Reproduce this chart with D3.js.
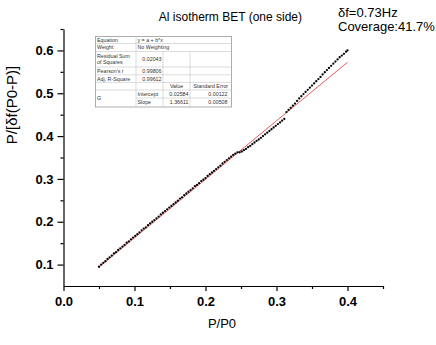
<!DOCTYPE html>
<html>
<head>
<meta charset="utf-8">
<script src="https://cdn.jsdelivr.net/npm/d3@7"></script>
<style>
  body { margin: 0; background: #fff; }
  svg { display: block; font-family: Arial, "Liberation Sans", sans-serif; }
</style>
</head>
<body>
<div id="chart"></div>
<script>
// measured points: P/P0 and P/[df(P0-P)]
const pp0 = [
  0.050, 0.053, 0.056, 0.059, 0.062, 0.065, 0.068, 0.071, 0.074, 0.077,
  0.080, 0.083, 0.086, 0.089, 0.092, 0.095, 0.098, 0.101, 0.104, 0.107,
  0.110, 0.113, 0.116, 0.119, 0.122, 0.125, 0.128, 0.131, 0.134, 0.137,
  0.140, 0.143, 0.146, 0.149, 0.152, 0.155, 0.158, 0.161, 0.164, 0.167,
  0.170, 0.173, 0.176, 0.179, 0.182, 0.185, 0.188, 0.191, 0.194, 0.197,
  0.200, 0.203, 0.206, 0.209, 0.212, 0.215, 0.218, 0.221, 0.224, 0.227,
  0.230, 0.233, 0.236, 0.239, 0.242, 0.245, 0.248, 0.251, 0.254, 0.257,
  0.260, 0.263, 0.266, 0.269, 0.272, 0.275, 0.278, 0.281, 0.284, 0.287,
  0.290, 0.293, 0.296, 0.299, 0.302, 0.305, 0.308, 0.311, 0.314, 0.317,
  0.320, 0.323, 0.326, 0.329, 0.332, 0.335, 0.338, 0.341, 0.344, 0.347,
  0.350, 0.353, 0.356, 0.359, 0.362, 0.365, 0.368, 0.371, 0.374, 0.377,
  0.380, 0.383, 0.386, 0.389, 0.392, 0.395, 0.398, 0.400
];
const bet = [
  0.095, 0.100, 0.104, 0.108, 0.113, 0.117, 0.121, 0.126, 0.129, 0.134,
  0.138, 0.142, 0.146, 0.151, 0.154, 0.159, 0.163, 0.167, 0.171, 0.175,
  0.180, 0.184, 0.187, 0.192, 0.196, 0.200, 0.204, 0.208, 0.212, 0.217,
  0.221, 0.225, 0.229, 0.233, 0.237, 0.241, 0.245, 0.249, 0.254, 0.257,
  0.262, 0.266, 0.270, 0.274, 0.278, 0.283, 0.286, 0.290, 0.295, 0.298,
  0.302, 0.307, 0.311, 0.315, 0.319, 0.323, 0.327, 0.331, 0.336, 0.340,
  0.344, 0.348, 0.352, 0.356, 0.359, 0.362, 0.362, 0.364, 0.367, 0.370,
  0.374, 0.377, 0.381, 0.385, 0.389, 0.392, 0.396, 0.400, 0.404, 0.408,
  0.412, 0.416, 0.420, 0.424, 0.428, 0.432, 0.436, 0.440, 0.456, 0.461,
  0.466, 0.471, 0.476, 0.482, 0.488, 0.493, 0.498, 0.503, 0.508, 0.513,
  0.518, 0.523, 0.528, 0.533, 0.538, 0.544, 0.549, 0.554, 0.559, 0.564,
  0.569, 0.574, 0.579, 0.584, 0.588, 0.592, 0.597, 0.600
];

// linear fit end points
const fitX = [0.05, 0.40];
const fitY = [0.0942, 0.5723];

const xTicks = [0, 0.1, 0.2, 0.3, 0.4];
const xMinor = [0.05, 0.15, 0.25, 0.35, 0.45];
const yTicks = [0.1, 0.2, 0.3, 0.4, 0.5, 0.6];
const yMinor = [0.15, 0.25, 0.35, 0.45, 0.55, 0.65];

// fit report table
const statNames  = ["Equation", "Weight", "Residual Sum|of Squares", "Pearson's r", "Adj. R-Square"];
const statValues = ["y = a + b*x", "No Weighting", "0.02043", "0.99806", "0.99612"];
const paramHeader = ["Value", "Standard Error"];
const paramNames  = ["Intercept", "Slope"];
const paramValues = ["0.02584", "1.36611"];
const paramErrors = ["0.00122", "0.00508"];
const seriesName = "G";

const title = "Al isotherm BET (one side)";
const notes = ["\u03b4f=0.73Hz", "Coverage:41.7%"];

const W = 436, H = 345;
const svg = d3.select("#chart").append("svg")
  .attr("width", W).attr("height", H);

const x = d3.scaleLinear().domain([0, 0.45]).range([63.5, 383]);
const y = d3.scaleLinear().domain([0.05, 0.65]).range([286, 29]);

// Axes
svg.append("g")
  .attr("transform", `translate(0,${y(0.05)})`)
  .call(d3.axisBottom(x).tickValues(xTicks).tickFormat(d3.format(".1f"))
    .tickSize(5).tickSizeOuter(0).tickPadding(6));
svg.append("g")
  .attr("transform", `translate(0,${y(0.05)})`)
  .call(d3.axisBottom(x).tickValues(xMinor).tickFormat("").tickSize(3).tickSizeOuter(0))
  .select(".domain").remove();

svg.append("g")
  .attr("transform", `translate(${x(0)},0)`)
  .call(d3.axisLeft(y).tickValues(yTicks).tickFormat(d3.format(".1f"))
    .tickSize(6).tickSizeOuter(0).tickPadding(4));
svg.append("g")
  .attr("transform", `translate(${x(0)},0)`)
  .call(d3.axisLeft(y).tickValues(yMinor).tickFormat("").tickSize(3).tickSizeOuter(0))
  .select(".domain").remove();

svg.selectAll(".domain, .tick line")
  .style("stroke", "#000")
  .style("stroke-width", "1.2px");
svg.selectAll(".tick text")
  .attr("fill", "#000")
  .style("font-family", "Arial, 'Liberation Sans', sans-serif")
  .style("font-size", "13px")
  .style("font-weight", "bold");

// Axis titles
svg.append("text")
  .attr("x", 222).attr("y", 328)
  .attr("text-anchor", "middle")
  .style("font-size", "13px")
  .text("P/P0");

svg.append("text")
  .attr("transform", "translate(17,105) rotate(-90)")
  .attr("text-anchor", "middle")
  .style("font-size", "15px")
  .text("P/[\u03b4f(P0-P)]");

// Title and notes
svg.append("text")
  .attr("x", 302).attr("y", 21)
  .attr("text-anchor", "end")
  .style("font-size", "12px")
  .text(title);

svg.selectAll("text.note")
  .data(notes)
  .enter().append("text")
  .attr("class", "note")
  .attr("x", 338)
  .attr("y", (d, i) => 17 + i * 14)
  .style("font-size", "13px")
  .text(d => d);

// Fit line
svg.append("line")
  .attr("x1", x(fitX[0])).attr("y1", y(fitY[0]))
  .attr("x2", x(fitX[1])).attr("y2", y(fitY[1]))
  .attr("stroke", "#e0474c")
  .attr("stroke-width", 0.9);

// Points
const points = pp0.map((p, i) => ({ p, v: bet[i] }));
svg.selectAll("circle.pt")
  .data(points)
  .enter().append("circle")
  .attr("class", "pt")
  .attr("cx", d => x(d.p))
  .attr("cy", d => y(d.v))
  .attr("r", 1.15)
  .attr("fill", "#000");

// Fit report table
const cols = [95.5, 136, 163, 190, 231.5];
const rows = [36.5, 43.5, 51.5, 67, 74.8, 82.4, 90, 98, 107];
const tbl = svg.append("g").style("font-size", "5.3px").attr("fill", "#333");
const grid = "#c4c4c4";

tbl.append("rect")
  .attr("x", cols[0]).attr("y", rows[0])
  .attr("width", cols[4] - cols[0]).attr("height", rows[8] - rows[0])
  .attr("fill", "#fff").attr("stroke", "#9a9a9a").attr("stroke-width", 0.8);

rows.slice(1, 8).forEach((ry, i) => {
  tbl.append("line")
    .attr("x1", i === 6 ? cols[1] : cols[0]).attr("x2", cols[4])
    .attr("y1", ry).attr("y2", ry)
    .attr("stroke", grid).attr("stroke-width", 0.6);
});
tbl.append("line")
  .attr("x1", cols[1]).attr("x2", cols[1]).attr("y1", rows[0]).attr("y2", rows[8])
  .attr("stroke", grid).attr("stroke-width", 0.6);
[cols[2], cols[3]].forEach(cx => {
  tbl.append("line")
    .attr("x1", cx).attr("x2", cx).attr("y1", rows[2]).attr("y2", rows[8])
    .attr("stroke", grid).attr("stroke-width", 0.6);
});

const mid = i => (rows[i] + rows[i + 1]) / 2 + 1.9;

statNames.forEach((s, i) => {
  const parts = s.split("|");
  parts.forEach((t, k) => {
    tbl.append("text")
      .attr("x", cols[0] + 1.5)
      .attr("y", mid(i) + (k - (parts.length - 1) / 2) * 6)
      .text(t);
  });
  const right = i >= 2;
  tbl.append("text")
    .attr("x", right ? cols[2] - 1.5 : cols[1] + 1.5)
    .attr("text-anchor", right ? "end" : "start")
    .attr("y", mid(i))
    .text(statValues[i]);
});

paramHeader.forEach((t, k) => {
  tbl.append("text")
    .attr("x", (cols[2 + k] + cols[3 + k]) / 2)
    .attr("y", mid(5))
    .attr("text-anchor", "middle")
    .text(t);
});

tbl.append("text")
  .attr("x", cols[0] + 1.5)
  .attr("y", rows[7] + 1.9)
  .text(seriesName);

paramNames.forEach((t, k) => {
  tbl.append("text").attr("x", cols[1] + 1.5).attr("y", mid(6 + k)).text(t);
  tbl.append("text").attr("x", cols[3] - 1.5).attr("y", mid(6 + k))
    .attr("text-anchor", "end").text(paramValues[k]);
  tbl.append("text").attr("x", cols[4] - 4).attr("y", mid(6 + k))
    .attr("text-anchor", "end").text(paramErrors[k]);
});
</script>
</body>
</html>
